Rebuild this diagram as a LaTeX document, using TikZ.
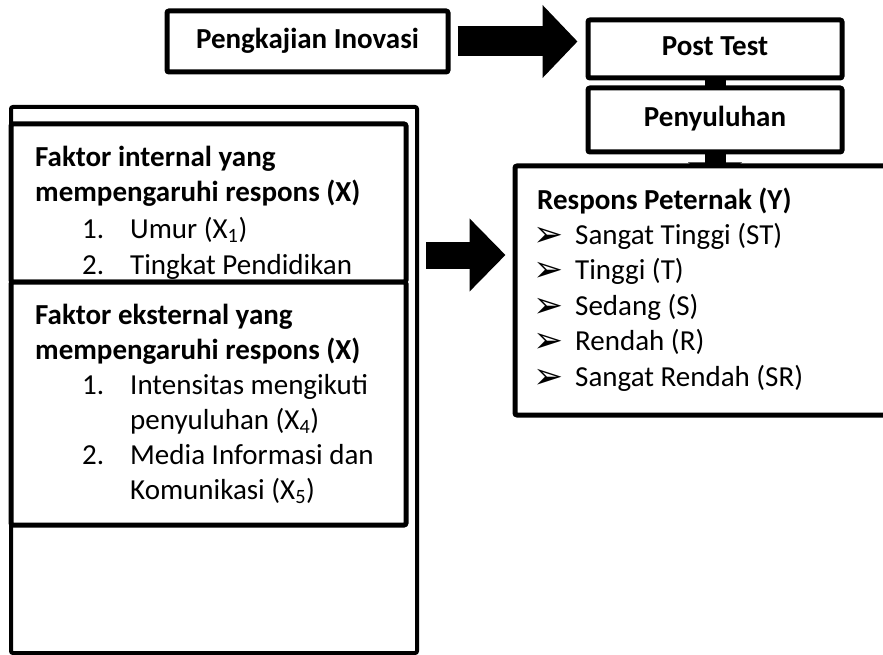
\documentclass[tikz,border=0pt]{standalone}
\usepackage{fontspec}
\setmainfont{Carlito}
\newfontfamily\bulletfont{DejaVu Sans}
\usetikzlibrary{positioning,arrows.meta,calc,backgrounds}
\tikzset{
  box/.style={draw, line width=5pt, rounded corners=2pt, fill=white, inner sep=0pt},
  boxtitle/.style={font=\fontsize{29}{35}\selectfont\bfseries, text height=20pt, text depth=6pt},
  txt/.style={font=\fontsize{29}{35}\selectfont, inner sep=0pt, anchor=base west},
  bold/.style={font=\fontsize{29}{35}\selectfont\bfseries},
  bullet/.style={font=\fontsize{36}{35}\bulletfont, inner sep=0pt, anchor=base west}
}

\begin{document}
\begin{tikzpicture}[x=1pt,y=-1pt]
  \useasboundingbox (0,0) rectangle (883,655);
  \clip (0,0) rectangle (883,655);
  % top row
  \node[box, minimum width=281pt, minimum height=61pt, boxtitle] (pengkajian) at (307.5,41.5) {Pengkajian Inovasi};
  \node[box, minimum width=254pt, minimum height=58pt, boxtitle] (posttest) at (715,49) {Post Test};
  \node[box, minimum width=254pt, minimum height=64pt, boxtitle] (penyuluhan) at (715,120) {Penyuluhan};
  \node[box, minimum width=400pt, minimum height=249pt] (respons) at (715,290.5) {};
  % left column
  \node[box, line width=4pt, minimum width=406pt, minimum height=546pt] (outer) at (214,380) {};
  \node[box, minimum width=395pt, minimum height=158pt] (internal) at (208.5,203) {};
  \node[box, minimum width=395pt, minimum height=243pt] (eksternal) at (208.5,403.5) {};
  \coordinate (mid) at (0,255);
  \begin{scope}[on background layer]
    \draw[line width=30pt, -{Triangle[length=35pt,width=71pt]}] ($(pengkajian.east)+(7,0)$) -- ($(pengkajian.east -| posttest.west)+(-8,0)$);
    \fill ($(posttest.south)+(-10.5,-2)$) rectangle ($(penyuluhan.north)+(10.5,2)$);
    \draw[line width=21pt, -{Triangle[length=18pt,width=53pt]}] (penyuluhan.south) -- ++(0,26);
  \end{scope}
  \draw[line width=27pt, -{Triangle[length=36pt,width=71pt]}] ($(outer.east |- mid)+(7,0)$) -- ($(respons.west |- mid)+(-7,0)$);
  % internal factors
  \node[txt, bold] (int1) at (35,167) {Faktor internal yang};
  \node[txt, bold] (int2) at (35,202) {mempengaruhi respons (X)};
  \node[txt] (intn1) at (82,238) {1.};
  \node[txt] (intx1) at (130,238) {Umur (X\textsubscript{1})};
  \node[txt] (intn2) at (82,274) {2.};
  \node[txt] (intx2) at (130,274) {Tingkat Pendidikan};
  % external factors
  \node[txt, bold] (eks1) at (35,324) {Faktor eksternal yang};
  \node[txt, bold] (eks2) at (35,359) {mempengaruhi respons (X)};
  \node[txt] (eksn1) at (82,394) {1.};
  \node[txt] (eksx1) at (130,394) {Intensitas mengikuti};
  \node[txt] (eksx1b) at (130,429) {penyuluhan (X\textsubscript{4})};
  \node[txt] (eksn2) at (82,464) {2.};
  \node[txt] (eksx2) at (130,464) {Media Informasi dan};
  \node[txt] (eksx2b) at (130,499) {Komunikasi (X\textsubscript{5})};
  % response levels
  \node[txt, bold] (resp) at (537,209) {Respons Peternak (Y)};
  \foreach \t [count=\i] in {Sangat Tinggi (ST), Tinggi (T), Sedang (S), Rendah (R), Sangat Rendah (SR)} {
    \node[bullet] (blt-\i) at (533,211+35.4*\i) {➢};
    \node[txt] (lvl-\i) at (575,209+35.4*\i) {\t};
  }
\end{tikzpicture}
\end{document}
